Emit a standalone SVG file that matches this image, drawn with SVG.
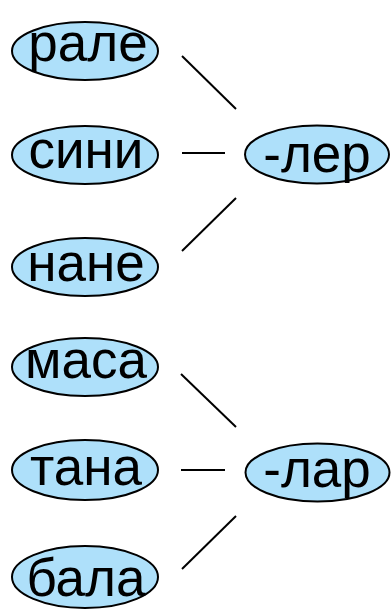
<svg xmlns="http://www.w3.org/2000/svg" width="391" height="611" viewBox="0 0 391 611">
<style>
.n ellipse{fill:#aee0fa;stroke:#000;stroke-width:2}
.n text{font-family:"Liberation Sans",Arial,sans-serif;font-size:53px;fill:#000;text-anchor:middle}
#connectors line{stroke:#000;stroke-width:2}
</style>
<rect width="391" height="611" fill="#fff"/>
<g id="connectors">
<line x1="182" y1="56" x2="236" y2="109"/>
<line x1="182" y1="153" x2="225" y2="153"/>
<line x1="236" y1="198" x2="182" y2="251"/>
<line x1="181" y1="374" x2="236" y2="427"/>
<line x1="181" y1="470" x2="225" y2="470"/>
<line x1="236" y1="516" x2="182" y2="569"/>
</g>
<g id="rale" class="n"><ellipse cx="85" cy="51" rx="73" ry="29"/><text x="88" y="61">рале</text></g>
<g id="sini" class="n"><ellipse cx="85" cy="155" rx="73" ry="29"/><text x="86" y="168">сини</text></g>
<g id="nane" class="n"><ellipse cx="85" cy="267" rx="73" ry="29"/><text x="86" y="281">нане</text></g>
<g id="masa" class="n"><ellipse cx="85" cy="367" rx="73" ry="29"/><text x="86" y="378">маса</text></g>
<g id="tana" class="n"><ellipse cx="85" cy="470" rx="73" ry="30"/><text x="86" y="485">тана</text></g>
<g id="bala" class="n"><ellipse cx="85" cy="577" rx="73" ry="31"/><text x="86" y="596">бала</text></g>
<g id="ler" class="n"><ellipse cx="317" cy="154.5" rx="72" ry="29"/><text x="317" y="172">-лер</text></g>
<g id="lar" class="n"><ellipse cx="317.5" cy="472.5" rx="72" ry="29"/><text x="317" y="487">-лар</text></g>
</svg>
